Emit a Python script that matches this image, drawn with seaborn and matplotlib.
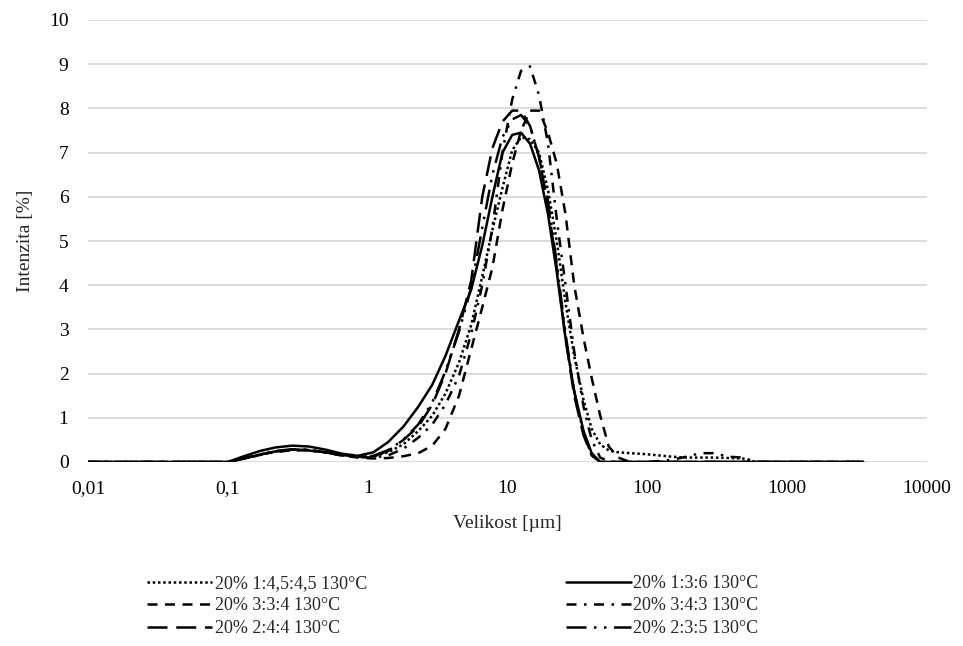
import matplotlib

matplotlib.use("Agg")

import matplotlib.pyplot as plt
import pandas as pd
import seaborn as sns
from matplotlib.ticker import FixedLocator, FuncFormatter, NullLocator


# particle size grid [um]
SIZES = [0.01, 0.05, 0.1, 0.13, 0.17, 0.22, 0.29, 0.38, 0.5, 0.65, 0.85, 1.1,
         1.4, 1.8, 2.3, 2.9, 3.6, 4.5, 5.5, 6.6, 7.8, 9.2, 10.8, 12.5, 14.5,
         16.8, 19.5, 22.5, 26, 30, 35, 40, 46, 53, 62, 75, 95, 120, 150, 190,
         240, 300, 380, 480, 600, 1000, 2000, 3500]

# intensity [%] per sample
S_145_45 = [0, 0, 0, 0.08, 0.17, 0.24, 0.28, 0.27, 0.22, 0.16, 0.12, 0.13,
            0.22, 0.40, 0.70, 1.05, 1.55, 2.25, 3.10, 4.20, 5.25, 6.20, 7.05,
            7.35, 7.30, 7.00, 6.15, 5.00, 3.60, 2.40, 1.40, 0.75, 0.40, 0.26,
            0.22, 0.20, 0.18, 0.15, 0.12, 0.10, 0.10, 0.10, 0.09, 0.08, 0, 0,
            0, 0]
S_136 = [0, 0, 0, 0.13, 0.25, 0.33, 0.37, 0.35, 0.28, 0.19, 0.14, 0.22,
         0.45, 0.80, 1.25, 1.75, 2.40, 3.20, 3.90, 4.90, 6.00, 7.00, 7.40,
         7.45, 7.20, 6.60, 5.60, 4.30, 2.80, 1.60, 0.70, 0.20, 0, 0,
         0, 0, 0, 0, 0, 0, 0, 0, 0, 0, 0, 0, 0, 0]
S_334 = [0, 0, 0, 0.08, 0.17, 0.23, 0.27, 0.26, 0.22, 0.15, 0.10, 0.08,
         0.09, 0.13, 0.20, 0.37, 0.75, 1.50, 2.55, 3.50, 4.40, 5.70, 6.75,
         7.50, 7.95, 7.95, 7.45, 6.75, 5.60, 4.00, 2.80, 1.90, 1.05, 0.35,
         0.10, 0, 0, 0, 0, 0, 0, 0, 0, 0, 0, 0, 0, 0]
S_343 = [0, 0, 0, 0.07, 0.16, 0.23, 0.27, 0.26, 0.21, 0.15, 0.11, 0.10,
         0.15, 0.30, 0.55, 0.85, 1.30, 1.95, 2.90, 4.00, 5.30, 7.00, 8.20,
         8.85, 8.95, 8.30, 7.20, 5.50, 4.00, 2.50, 1.25, 0.50, 0.10, 0.02,
         0, 0, 0, 0.02, 0.05, 0.12, 0.20, 0.20, 0.12, 0.10, 0, 0, 0, 0]
S_244 = [0, 0, 0, 0.08, 0.17, 0.24, 0.28, 0.27, 0.22, 0.16, 0.12, 0.13,
         0.25, 0.50, 0.80, 1.30, 2.00, 3.00, 4.10, 6.00, 7.10, 7.70, 7.95,
         7.95, 7.60, 6.90, 5.80, 4.40, 2.80, 1.50, 0.60, 0.15, 0, 0,
         0, 0, 0, 0, 0, 0, 0, 0, 0, 0, 0, 0, 0, 0]
S_235 = [0, 0, 0, 0.08, 0.17, 0.25, 0.29, 0.28, 0.22, 0.16, 0.12, 0.14,
         0.27, 0.50, 0.85, 1.35, 2.05, 2.95, 3.95, 5.30, 6.50, 7.35, 7.75,
         7.85, 7.60, 6.90, 5.90, 4.50, 2.90, 1.60, 0.65, 0.15, 0, 0,
         0, 0, 0, 0, 0, 0, 0, 0, 0, 0, 0, 0, 0, 0]

X_TICKS = [0.01, 0.1, 1, 10, 100, 1000, 10000]
Y_TICKS = list(range(0, 11))

# legend order follows matplotlib column filling (left column first)
SERIES = [
    ("20% 1:4,5:4,5 130°C", S_145_45, (0, (1, 1.1))),
    ("20% 3:3:4 130°C", S_334, (0, (4, 3))),
    ("20% 2:4:4 130°C", S_244, (0, (8, 3.5))),
    ("20% 1:3:6 130°C", S_136, "-"),
    ("20% 3:4:3 130°C", S_343, (0, (4, 3, 1, 3))),
    ("20% 2:3:5 130°C", S_235, (0, (8, 3, 1, 3, 1, 3))),
]


def comma_label(value, _pos):
    if value >= 1:
        return f"{value:.0f}"
    return f"{value:g}".replace(".", ",")


def main() -> None:
    sns.set_theme(style="white")
    plt.rcParams["font.family"] = ["Liberation Serif", "DejaVu Serif"]

    fig = plt.figure(figsize=(9.63, 6.46), dpi=100)
    ax = fig.add_axes([88 / 963, 1 - 462 / 646, 839 / 963, 442 / 646])

    for label, values, style in SERIES:
        data = pd.DataFrame({"size": SIZES, "intensity": values})
        sns.lineplot(
            data=data,
            x="size",
            y="intensity",
            ax=ax,
            color="black",
            linestyle=style,
            linewidth=1.8,
            label=label,
            sort=False,
            estimator=None,
        )

    ax.set_xscale("log")
    ax.set_xlim(0.01, 10000)
    ax.set_ylim(0, 10)
    ax.xaxis.set_major_locator(FixedLocator(X_TICKS))
    ax.xaxis.set_minor_locator(NullLocator())
    ax.xaxis.set_major_formatter(FuncFormatter(comma_label))
    ax.set_yticks(Y_TICKS)
    ax.yaxis.grid(True, color="#d9d9d9", linewidth=1.3)
    ax.xaxis.grid(False)
    for spine in ax.spines.values():
        spine.set_visible(False)
    ax.tick_params(axis="both", length=0, labelsize=14, colors="black")
    ax.tick_params(axis="x", pad=13)
    ax.tick_params(axis="y", pad=14)
    ax.set_xlabel("Velikost [µm]", fontsize=14, labelpad=13)
    ax.set_ylabel("Intenzita [%]", fontsize=14, labelpad=11)

    ax.get_legend().remove()
    handles, labels = ax.get_legend_handles_labels()
    fig.legend(
        handles,
        labels,
        loc="upper left",
        bbox_to_anchor=(138 / 963, 1 - 566 / 646),
        ncol=2,
        frameon=False,
        fontsize=13,
        handlelength=3.6,
        handletextpad=0.15,
        columnspacing=11.0,
        labelspacing=0.3,
        borderpad=0,
    )

    fig.savefig("out.png", dpi=100)
    plt.close(fig)


if __name__ == "__main__":
    main()
